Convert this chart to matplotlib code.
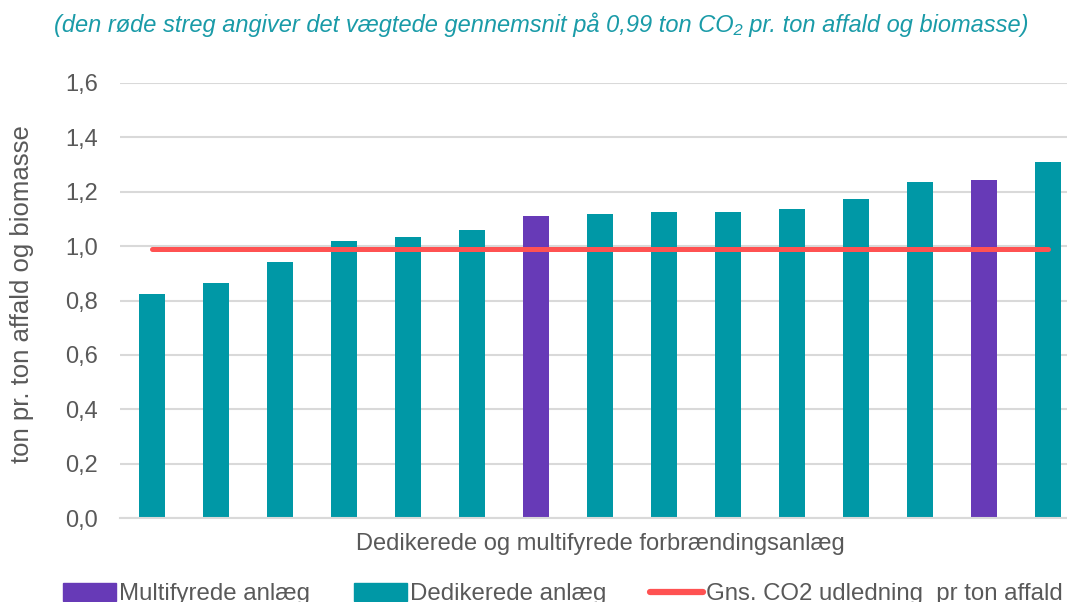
import matplotlib
matplotlib.use('Agg')
import matplotlib.pyplot as plt
from matplotlib.patches import Patch
from matplotlib.lines import Line2D

plt.rcParams['font.family'] = ['Liberation Sans', 'DejaVu Sans']

# Data
values = [0.824, 0.864, 0.941, 1.019, 1.033, 1.060, 1.110, 1.117,
          1.125, 1.125, 1.135, 1.173, 1.236, 1.243, 1.308]
plant_type = ['D', 'D', 'D', 'D', 'D', 'D', 'M', 'D',
              'D', 'D', 'D', 'D', 'D', 'M', 'D']
average = 0.99
yticks = [0.0, 0.2, 0.4, 0.6, 0.8, 1.0, 1.2, 1.4, 1.6]

teal = '#0098A6'
purple = '#673AB7'
red = '#FF5252'
grey = '#595959'

fig = plt.figure(figsize=(10.67, 6.02), dpi=100)
ax = fig.add_axes([120 / 1067, 1 - 518 / 602, 960 / 1067, 435 / 602])

x = list(range(len(values)))
colors = [purple if t == 'M' else teal for t in plant_type]
ax.bar(x, values, width=0.4, color=colors, zorder=2)
ax.plot([x[0], x[-1]], [average, average], color=red, linewidth=3.6,
        solid_capstyle='round', zorder=3)

ax.set_xlim(-0.5, len(values) - 0.5)
ax.set_ylim(0, 1.6)
ax.set_yticks(yticks)
ax.set_yticklabels([f'{v:.1f}'.replace('.', ',') for v in yticks],
                   fontsize=17, color=grey)
ax.set_xticks([])
ax.tick_params(axis='y', length=0, pad=16)
ax.grid(axis='y', color='#D9D9D9', linewidth=1.5, zorder=0)
ax.set_axisbelow(True)
for s in ['top', 'right', 'left']:
    ax.spines[s].set_visible(False)
ax.spines['bottom'].set_color('#D9D9D9')
ax.spines['bottom'].set_linewidth(1.5)

ax.set_ylabel('ton pr. ton affald og biomasse', fontsize=18.5, color=grey,
              va='center')
ax.yaxis.set_label_coords(22 / 1067, 1 - 294 / 602, transform=fig.transFigure)
ax.set_xlabel('Dedikerede og multifyrede forbrændingsanlæg', fontsize=17,
              color=grey, va='center')
ax.xaxis.set_label_coords(600 / 1067, 1 - 544 / 602, transform=fig.transFigure)

fig.text(541 / 1067, 1 - 25 / 602,
         '(den røde streg angiver det vægtede gennemsnit på 0,99 ton CO₂ pr. ton affald og biomasse)',
         ha='center', va='center', fontsize=17, style='italic', color='#1A9BA8')

# legend sits at the bottom edge, partly cut off as in the original
handles = [Patch(color=purple), Patch(color=teal),
           Line2D([0], [0], color=red, linewidth=4.5, solid_capstyle='round')]
labels = ['Multifyrede anlæg', 'Dedikerede anlæg',
          'Gns. CO2 udledning  pr ton affald']
leg = fig.legend(handles, labels, loc='center', ncol=3,
                 bbox_to_anchor=(563 / 1067, 1 - 594 / 602), frameon=False,
                 fontsize=17.3, handlelength=2.2, handleheight=0.8,
                 columnspacing=1.8, handletextpad=0.15, borderpad=0)
for t in leg.get_texts():
    t.set_color(grey)

fig.savefig('out.png', dpi=100)
